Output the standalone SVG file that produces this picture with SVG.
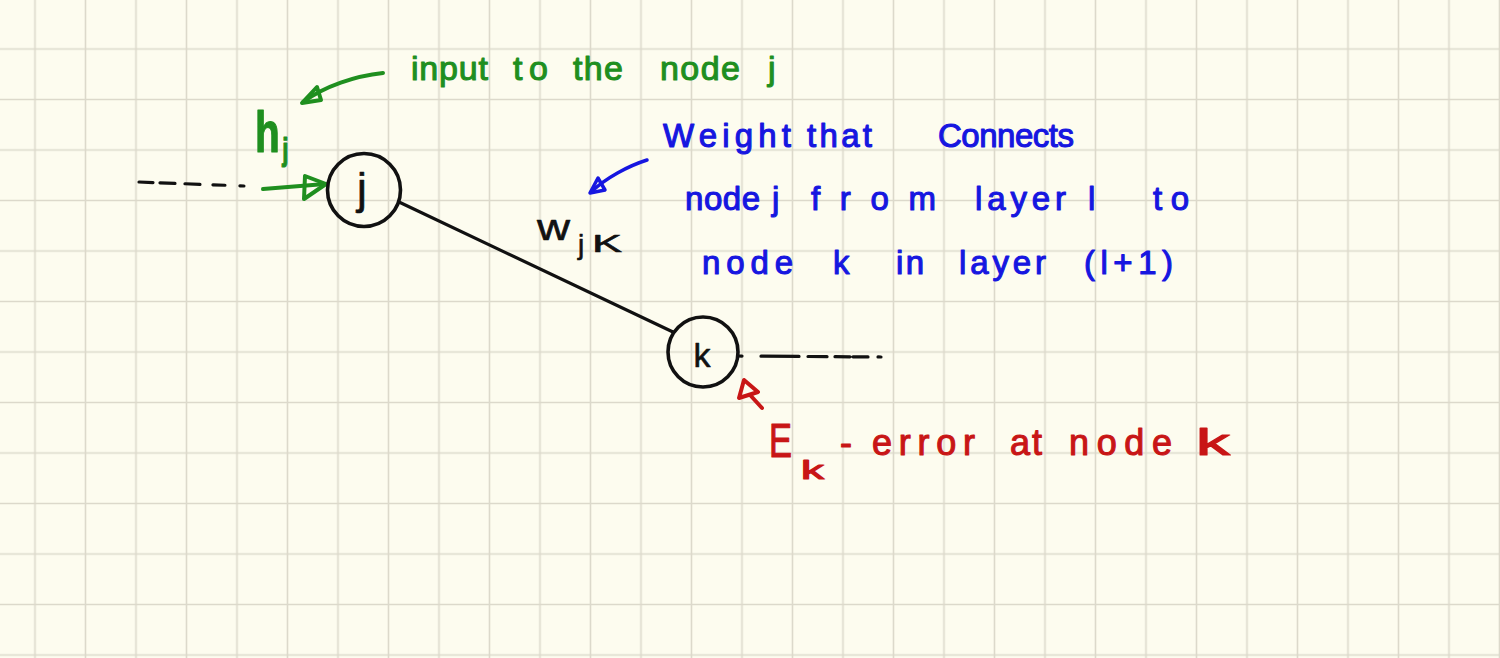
<svg xmlns="http://www.w3.org/2000/svg" width="1500" height="658" viewBox="0 0 1500 658">
  <defs>
    <pattern id="grid" x="9.75" y="23.75" width="50.5" height="50.5" patternUnits="userSpaceOnUse">
      <path d="M25.25 0 V50.5 M0 25.25 H50.5" stroke="#dcd9cb" stroke-width="1.6" fill="none"/>
    </pattern>
    <style>
      .txt { font-family: "Liberation Sans", "DejaVu Sans", sans-serif; stroke-width: 1.1; stroke-linejoin: round; }
      .green { fill: #1f8f1f; stroke: #1f8f1f; }
      .blue { fill: #1616e0; stroke: #1616e0; }
      .red { fill: #c81616; stroke: #c81616; }
      .black { fill: #111111; stroke: #111111; stroke-width: 0.6; }
      .node { fill: none; stroke: #111111; stroke-width: 3.6; }
      .edge { fill: none; stroke: #111111; stroke-width: 3.2; stroke-linecap: round; }
      .garrow { fill: none; stroke: #1f8f1f; stroke-width: 4; stroke-linecap: round; stroke-linejoin: round; }
      .barrow { fill: none; stroke: #1616e0; stroke-width: 3.5; stroke-linecap: round; stroke-linejoin: round; }
      .rarrow { fill: none; stroke: #c81616; stroke-width: 4; stroke-linecap: round; stroke-linejoin: round; }
    </style>
  </defs>

  <rect width="1500" height="658" fill="#fdfcef"/>
  <rect width="1500" height="658" fill="url(#grid)"/>

  <g id="connectors">
    <path class="edge" d="M139 182 L244 186" stroke-dasharray="14 7 15 10 15 13 12 15 4"/>
    <path class="edge" d="M399 202 L673 332"/>
    <path class="edge" d="M738 356 L882 357" stroke-dasharray="4 19 38 9 19 8 15 3 15 10 3"/>
    <path class="garrow" d="M263 189 L325 184"/>
    <path class="garrow" d="M326 184 L305 176 L304 199 Z"/>
    <path class="garrow" d="M383 73 C355 76 325 86 303 102"/>
    <path class="garrow" d="M302 103 L317 87 L321 100 Z"/>
    <path class="barrow" d="M647 160 C628 166 606 178 591 192"/>
    <path class="barrow" d="M590 193 L598 178 L605 190 Z"/>
    <path class="rarrow" d="M739 398 L744 380 L758 392 Z M751 396 L762 408"/>
  </g>

  <g id="node-j">
    <circle class="node" cx="364" cy="190" r="36.5"/>
    <text class="txt black" x="362" y="204" font-size="44" text-anchor="middle">j</text>
  </g>

  <g id="node-k">
    <circle class="node" cx="703" cy="352" r="35"/>
    <text class="txt black" x="702" y="367" font-size="34" text-anchor="middle">k</text>
  </g>

  <g id="label-hj">
    <text class="txt green" font-weight="bold" transform="translate(255 152) scale(0.7 1)"><tspan x="0" y="0" font-size="58">h</tspan><tspan x="39" y="8" font-size="32">j</tspan></text>
  </g>

  <g id="label-input">
    <text class="txt green" y="80" font-size="34"><tspan x="411" textLength="77" lengthAdjust="spacing">input</tspan> <tspan x="513" textLength="35" lengthAdjust="spacing">to</tspan> <tspan x="573" textLength="50" lengthAdjust="spacing">the</tspan> <tspan x="660" textLength="80" lengthAdjust="spacing">node</tspan> <tspan x="768">j</tspan></text>
  </g>

  <g id="label-wjk">
    <text class="txt black"><tspan x="537" y="240" font-size="36" textLength="33" lengthAdjust="spacingAndGlyphs">w</tspan><tspan x="578" y="254" font-size="28">j</tspan><tspan x="592" y="252" font-size="24" textLength="30" lengthAdjust="spacingAndGlyphs">K</tspan></text>
  </g>

  <g id="label-weight">
    <text class="txt blue" font-size="33" y="147"><tspan x="663" textLength="128" lengthAdjust="spacing">Weight</tspan> <tspan x="807" textLength="65" lengthAdjust="spacing">that</tspan> <tspan x="938" textLength="136" lengthAdjust="spacing">Connects</tspan></text>
    <text class="txt blue" font-size="33" y="210"><tspan x="685" textLength="75" lengthAdjust="spacing">node</tspan> <tspan x="772">j</tspan> <tspan x="811" textLength="125" lengthAdjust="spacing">from</tspan> <tspan x="975" textLength="91" lengthAdjust="spacing">layer</tspan> <tspan x="1088">l</tspan> <tspan x="1153" textLength="36" lengthAdjust="spacing">to</tspan></text>
    <text class="txt blue" font-size="33" y="274"><tspan x="702" textLength="91" lengthAdjust="spacing">node</tspan> <tspan x="833">k</tspan> <tspan x="896" textLength="28" lengthAdjust="spacing">in</tspan> <tspan x="959" textLength="87" lengthAdjust="spacing">layer</tspan> <tspan x="1084" textLength="89" lengthAdjust="spacing">(l+1)</tspan></text>
  </g>

  <g id="label-error">
    <text class="txt red"><tspan x="769" y="457" font-size="48" textLength="23" lengthAdjust="spacingAndGlyphs">E</tspan><tspan x="801" y="479" font-size="25" textLength="23" lengthAdjust="spacingAndGlyphs">k</tspan> <tspan x="840" y="455" font-size="36">-</tspan> <tspan x="872" y="455" font-size="36" textLength="103" lengthAdjust="spacing">error</tspan> <tspan x="1010" y="455" font-size="36" textLength="32" lengthAdjust="spacing">at</tspan> <tspan x="1069" y="455" font-size="36" textLength="103" lengthAdjust="spacing">node</tspan> <tspan x="1196" y="455" font-size="36" textLength="34" lengthAdjust="spacingAndGlyphs">k</tspan></text>
  </g>
</svg>
